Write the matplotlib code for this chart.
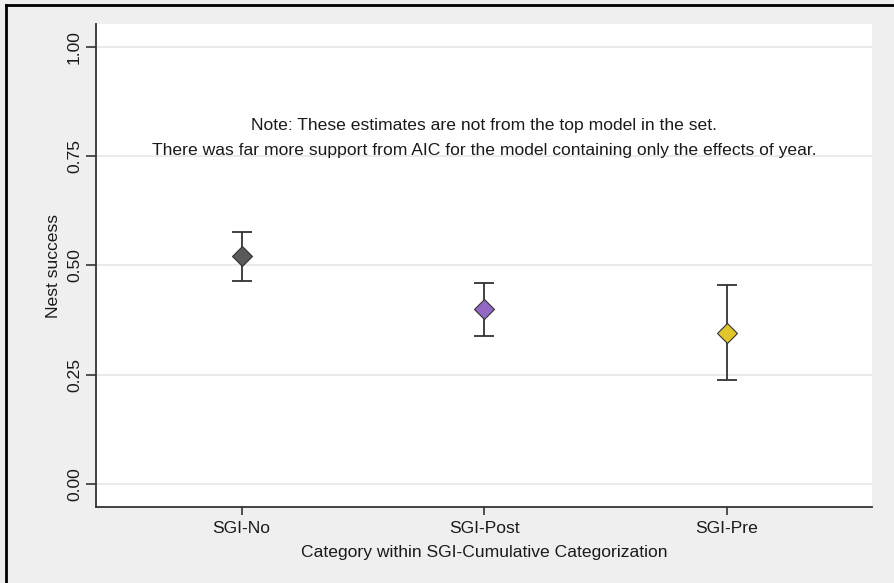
import matplotlib
matplotlib.use("Agg")
import matplotlib.pyplot as plt
from matplotlib.lines import Line2D
import numpy as np


categories = ["SGI-No", "SGI-Post", "SGI-Pre"]
estimates = [0.522, 0.400, 0.346]
lower_ci = [0.465, 0.339, 0.238]
upper_ci = [0.577, 0.461, 0.455]
marker_colors = ["#5a5a5a", "#9268c2", "#e0c52b"]
y_ticks = [0.0, 0.25, 0.50, 0.75, 1.0]
note_lines = [
	"Note: These estimates are not from the top model in the set.",
	"There was far more support from AIC for the model containing only the effects of year.",
]


plt.rcParams["font.family"] = ["Liberation Sans", "DejaVu Sans"]
default_fontsize = 12.6
text_color = "#1a1a1a"

fig = plt.figure(figsize=(8.94, 5.83), dpi=100)
fig.patch.set_facecolor("#efefef")
ax = fig.add_axes([96/894, 1-507/583, (872-96)/894, (507-24)/583])
ax.set_facecolor("white")

x_axis = np.arange(1, len(categories) + 1)

# grid lines
for yv in y_ticks:
	ax.axhline(y=yv, color="#eaeaea", linewidth=1.5, zorder=0)

for i, x in enumerate(x_axis):
	ax.errorbar(
		x,
		estimates[i],
		yerr=[[estimates[i] - lower_ci[i]], [upper_ci[i] - estimates[i]]],
		fmt="none",
		ecolor="#333333",
		elinewidth=1.3,
		capsize=7,
		capthick=1.3,
		zorder=2,
	)
	ax.plot(
		x,
		estimates[i],
		marker="D",
		markersize=10,
		markerfacecolor=marker_colors[i],
		markeredgecolor="#333333",
		markeredgewidth=0.8,
		linestyle="none",
		zorder=3,
	)

ax.text(2, 0.820, note_lines[0], ha="center", va="center",
	fontsize=default_fontsize, color=text_color)
ax.text(2, 0.764, note_lines[1], ha="center", va="center",
	fontsize=default_fontsize, color=text_color)

ax.set_xlim(0.4, 3.6)
ax.set_ylim(-0.0526, 1.0526)

ax.set_xticks(x_axis)
ax.set_xticklabels(categories, fontsize=default_fontsize, color=text_color)
ax.set_yticks(y_ticks)
ax.set_yticklabels(["%.2f" % v for v in y_ticks], rotation=90, va="center",
	fontsize=default_fontsize, color=text_color)

ax.tick_params(axis="y", length=7, width=1.2, color="#333333", pad=3)
ax.tick_params(axis="x", length=6, width=1.2, color="#333333", pad=4)

ax.spines["top"].set_visible(False)
ax.spines["right"].set_visible(False)
ax.spines["left"].set_color("#333333")
ax.spines["bottom"].set_color("#333333")
ax.spines["left"].set_linewidth(1.3)
ax.spines["bottom"].set_linewidth(1.3)

ax.set_ylabel("Nest success", fontsize=default_fontsize, color=text_color, labelpad=4.5)
ax.set_xlabel("Category within SGI-Cumulative Categorization",
	fontsize=default_fontsize, color=text_color, labelpad=6.5)

# outer frame (left and top only, image is cropped)
fig.add_artist(Line2D([6/894, 6/894], [0, 1-5/583], transform=fig.transFigure,
	color="black", linewidth=2))
fig.add_artist(Line2D([6/894, 1], [1-5/583, 1-5/583], transform=fig.transFigure,
	color="black", linewidth=2))

plt.savefig("out.png", dpi=100, facecolor=fig.get_facecolor())
plt.close()
